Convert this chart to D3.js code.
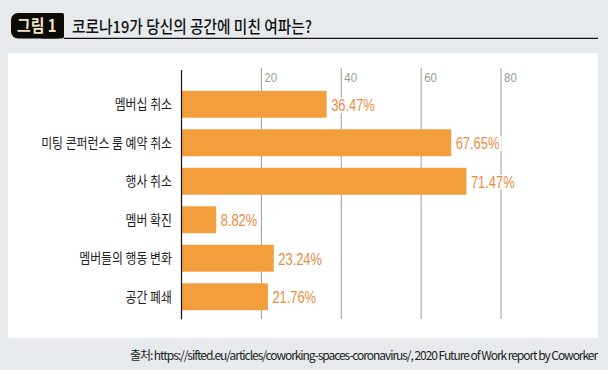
<!DOCTYPE html>
<html><head><meta charset="utf-8">
<script src="https://cdn.jsdelivr.net/npm/d3@7"></script>
<style>html,body{margin:0;padding:0;background:#e6eaed;}svg{display:block;}</style>
</head><body>
<svg id="c" width="608" height="370"></svg>
<script>
const categories = ["멤버십 취소","미팅 콘퍼런스 룸 예약 취소","행사 취소","멤버 확진","멤버들의 행동 변화","공간 폐쇄"];
const values = [36.47, 67.65, 71.47, 8.82, 23.24, 21.76];
const ticks = [20, 40, 60, 80];
const badgeText = "그림 1";
const titleText = "코로나19가 당신의 공간에 미친 여파는?";
const sourceText = "출처: https://sifted.eu/articles/coworking-spaces-coronavirus/, 2020 Future of Work report by Coworker";

const svg = d3.select("#c");
const KR = "'Noto Sans CJK KR','Noto Sans',sans-serif";
const LAT = "'Liberation Sans','Arial',sans-serif";

function squeeze(sel, f){ sel.each(function(){ const w=this.getComputedTextLength(); d3.select(this).attr("textLength", w*f).attr("lengthAdjust","spacingAndGlyphs"); }); }

svg.append("rect").attr("width",608).attr("height",370).attr("fill","#e6eaed");
// header
svg.append("rect").attr("x",11).attr("y",13).attr("width",53).attr("height",25.5).attr("rx",7).attr("fill","#0d0b08");
svg.append("rect").attr("x",40).attr("y",13).attr("width",24).attr("height",25.5).attr("rx",2).attr("fill","#0d0b08");
const bt = svg.append("text").attr("x",17).attr("y",32).attr("fill","#f4e4c2").attr("font-family",KR).attr("font-weight",700).attr("font-size",16.5).text(badgeText);
squeeze(bt, 0.9);
svg.append("line").attr("x1",64).attr("x2",598).attr("y1",38.3).attr("y2",38.3).attr("stroke","#111").attr("stroke-width",1.3);
const tt = svg.append("text").attr("x",72).attr("y",33).attr("fill","#111").attr("font-family",KR).attr("font-weight",500).attr("font-size",16.5).text(titleText);
tt.attr("textLength",240).attr("lengthAdjust","spacingAndGlyphs");

// panel
svg.append("rect").attr("x",8).attr("y",53.3).attr("width",590).attr("height",285).attr("fill","#ffffff");

const x = d3.scaleLinear().domain([0,80]).range([181,500.5]);
const y = d3.scaleBand().domain(categories).range([85,316]).paddingInner(0.3).paddingOuter(0.15);

// gridlines
const gx = svg.append("g").attr("transform","translate(0,68)")
  .call(d3.axisTop(x).tickValues(ticks).tickSize(-251).tickFormat(d3.format("d")));
gx.select(".domain").remove();
gx.selectAll(".tick line").attr("stroke","#9a9a9a").attr("stroke-width",1);
gx.selectAll(".tick text").attr("text-anchor","start").attr("x",3).attr("y",13.5).attr("dy",0)
  .attr("fill","#9a9a9a").attr("font-family",LAT).attr("font-size",13.5);
gx.selectAll(".tick text").call(s=>squeeze(s,0.85));

// bars
svg.append("g").selectAll("rect").data(values).join("rect")
  .attr("x",x(0)).attr("y",(d,i)=>y(categories[i])).attr("height",y.bandwidth())
  .attr("width",d=>x(d)-x(0)).attr("fill","#f39e3d");

// value labels with white backing
const vl = svg.append("g").selectAll("g").data(values).join("g");
vl.append("rect").attr("fill","#fff");
vl.append("text").attr("x",d=>x(d)+4.5).attr("y",(d,i)=>y(categories[i])+y.bandwidth()/2+6.5)
  .attr("fill","#ec8a3e").attr("font-family",LAT).attr("font-size",16.5).text(d=>d.toFixed(2)+"%")
  .call(s=>squeeze(s,0.78));
vl.each(function(){ const g=d3.select(this); const b=g.select("text").node().getBBox(); g.select("rect").attr("x",b.x-1).attr("y",b.y+2).attr("width",b.width+3).attr("height",b.height-3); });

// axis line
svg.append("line").attr("x1",181.5).attr("x2",181.5).attr("y1",70).attr("y2",319.3).attr("stroke","#111").attr("stroke-width",1.2);

// category labels
svg.append("g").selectAll("text").data(categories).join("text")
  .attr("x",172).attr("y",d=>y(d)+y.bandwidth()/2+5).attr("text-anchor","end")
  .attr("fill","#222").attr("font-family",KR).attr("font-size",13.5).attr("font-weight",400).text(d=>d)
  .call(s=>squeeze(s,0.88));

// source
svg.append("text").attr("x",597).attr("y",360).attr("text-anchor","end").attr("fill","#222")
  .attr("font-family",KR).attr("font-size",12).attr("letter-spacing",-1.05).text(sourceText);
</script>
</body></html>
